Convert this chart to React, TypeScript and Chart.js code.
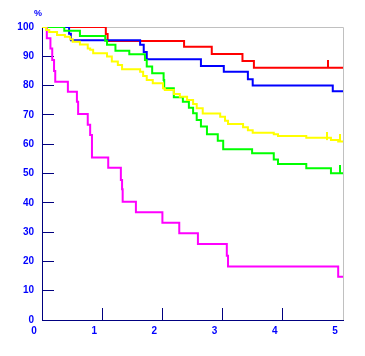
import React, { useEffect, useRef } from "react";
import { Chart, registerables } from "chart.js";

Chart.register(...registerables);

// Survival curves (time in years, survival in %)
const redTimes = [0, 1.06, 1.09, 2.36, 2.82, 3.33, 3.52, 5.0];
const redSurv = [100, 97.6, 95.2, 93.3, 90.8, 88.4, 86.1, 86.1];

const blueTimes = [0, 0.45, 0.48, 1.63, 1.69, 1.74, 2.64, 3.02, 3.42, 3.5, 4.83, 5.0];
const blueSurv = [100, 97.7, 95.5, 93.9, 91.5, 89.0, 86.7, 84.7, 82.2, 80.0, 78.1, 78.1];

const greenTimes = [0, 0.37, 0.63, 1.05, 1.08, 1.22, 1.45, 1.71, 1.74, 1.83, 2.02, 2.03, 2.19, 2.34, 2.44, 2.51, 2.57, 2.64, 2.74, 2.92, 3.01, 3.49, 3.85, 3.92, 4.39, 4.8, 5.0];
const greenSurv = [100, 98.7, 96.9, 95.3, 93.9, 91.9, 90.7, 88.7, 86.5, 84.2, 81.9, 79.1, 76.0, 74.5, 72.4, 70.6, 68.3, 66.0, 63.4, 61.2, 58.3, 56.9, 54.8, 53.2, 51.8, 50.1, 50.1];

const yellowTimes = [0, 0.07, 0.12, 0.25, 0.38, 0.47, 0.51, 0.63, 0.76, 0.8, 0.85, 1.08, 1.16, 1.26, 1.33, 1.63, 1.68, 1.74, 1.84, 2.01, 2.04, 2.19, 2.29, 2.41, 2.51, 2.57, 2.67, 2.96, 3.04, 3.09, 3.34, 3.42, 3.5, 3.85, 3.92, 4.39, 4.8, 4.92, 5.0];
const yellowSurv = [100, 99.0, 98.3, 97.3, 96.7, 95.8, 95.0, 94.0, 92.7, 92.2, 91.0, 89.9, 88.2, 87.0, 85.6, 84.7, 83.3, 81.9, 80.8, 79.1, 78.5, 77.1, 76.2, 75.1, 73.7, 72.3, 70.5, 69.4, 68.0, 66.9, 65.8, 64.8, 63.9, 63.4, 62.8, 62.2, 61.4, 60.9, 60.9];

const magentaTimes = [0, 0.08, 0.14, 0.17, 0.2, 0.22, 0.43, 0.58, 0.6, 0.76, 0.8, 0.83, 1.1, 1.31, 1.33, 1.34, 1.56, 2.0, 2.28, 2.59, 3.07, 3.09, 4.92, 5.0];
const magentaSurv = [100, 96.2, 92.7, 88.7, 85.0, 81.3, 77.9, 74.5, 70.3, 66.6, 63.1, 55.5, 52.0, 47.8, 44.6, 40.4, 36.8, 33.2, 29.6, 25.9, 21.9, 18.3, 14.8, 14.8];

// Censor marks
const redCensorTimes = [4.75];
const redCensorSurv = [86.1];
const yellowCensorTimes = [4.74, 4.95];
const yellowCensorSurv = [61.4, 60.9];
const greenCensorTimes = [4.95];
const greenCensorSurv = [50.1];

const xTicks = [0, 1, 2, 3, 4, 5];
const yTicks = [0, 10, 20, 30, 40, 50, 60, 70, 80, 90, 100];

const toPoints = (t: number[], s: number[]) => t.map((x, i) => ({ x, y: s[i] }));

function censorMark(color: string): HTMLCanvasElement {
  const c = document.createElement("canvas");
  c.width = 2;
  c.height = 16;
  const g = c.getContext("2d")!;
  g.fillStyle = color;
  g.fillRect(0, 0, 2, 8);
  return c;
}

const framePlugin = {
  id: "frame",
  beforeDatasetsDraw(chart: any) {
    const { ctx, chartArea: a } = chart;
    ctx.save();
    ctx.strokeStyle = "#c0c0c0";
    ctx.lineWidth = 1;
    ctx.beginPath();
    ctx.moveTo(a.left, a.top + 0.5);
    ctx.lineTo(a.right + 0.5, a.top + 0.5);
    ctx.lineTo(a.right + 0.5, a.bottom);
    ctx.stroke();
    ctx.fillStyle = "#0000ff";
    ctx.font = 'bold 9px "Liberation Sans"';
    ctx.textAlign = "center";
    ctx.textBaseline = "middle";
    ctx.fillText("%", a.left - 4, a.top - 13);
    ctx.restore();
  },
};

export default function App() {
  const ref = useRef<HTMLCanvasElement>(null);

  useEffect(() => {
    if (!ref.current) return;
    const line = (label: string, color: string, t: number[], s: number[]) => ({
      type: "line" as const,
      label,
      data: toPoints(t, s),
      borderColor: color,
      backgroundColor: color,
      borderWidth: 2,
      pointRadius: 0,
      stepped: "before" as const,
      fill: false,
    });
    const censor = (label: string, color: string, t: number[], s: number[]) => ({
      type: "scatter" as const,
      label,
      data: toPoints(t, s),
      pointStyle: censorMark(color),
      pointRadius: 4,
      borderColor: color,
      backgroundColor: color,
      showLine: false,
    });
    const tickFont = { family: '"Liberation Sans", Arial, sans-serif', size: 10, weight: "bold" as const };
    const chart = new Chart(ref.current, {
      type: "line",
      data: {
        datasets: [
          censor("c1", "#ffff00", yellowCensorTimes, yellowCensorSurv),
          censor("c2", "#00ff00", greenCensorTimes, greenCensorSurv),
          censor("c3", "#ff0000", redCensorTimes, redCensorSurv),
          line("yellow", "#ffff00", yellowTimes, yellowSurv),
          line("magenta", "#ff00ff", magentaTimes, magentaSurv),
          line("green", "#00ff00", greenTimes, greenSurv),
          line("blue", "#0000ff", blueTimes, blueSurv),
          line("red", "#ff0000", redTimes, redSurv),
        ] as any,
      },
      options: {
        animation: false,
        responsive: false,
        layout: { padding: { top: 27, right: 22, left: 0, bottom: 0 } },
        plugins: { legend: { display: false }, tooltip: { enabled: false }, title: { display: false } },
        scales: {
          x: {
            type: "linear",
            min: 0,
            max: 5,
            afterBuildTicks: (s: any) => { s.ticks = xTicks.map((v) => ({ value: v })); },
            afterFit: (s: any) => { s.height = 36; },
            ticks: { color: "#0000ff", font: tickFont, padding: 17, labelOffset: -8, maxRotation: 0 },
            grid: { drawOnChartArea: false, drawTicks: true, tickLength: -12, color: "#000080", lineWidth: 1 },
            border: { display: true, color: "#000080", width: 1 },
          },
          y: {
            type: "linear",
            min: 0,
            max: 100,
            afterBuildTicks: (s: any) => { s.ticks = yTicks.map((v) => ({ value: v })); },
            afterFit: (s: any) => { s.width = 42; },
            ticks: { color: "#0000ff", font: tickFont, padding: 20 },
            grid: { drawOnChartArea: false, drawTicks: true, tickLength: -12, color: "#000080", lineWidth: 1 },
            border: { display: true, color: "#000080", width: 1 },
          },
        },
      } as any,
      plugins: [framePlugin],
    });
    return () => chart.destroy();
  }, []);

  return (
    <div style={{ position: "absolute", left: 0, top: 0, width: 365, height: 356, background: "#fff" }}>
      <canvas ref={ref} width={365} height={356} style={{ display: "block" }} />
    </div>
  );
}
